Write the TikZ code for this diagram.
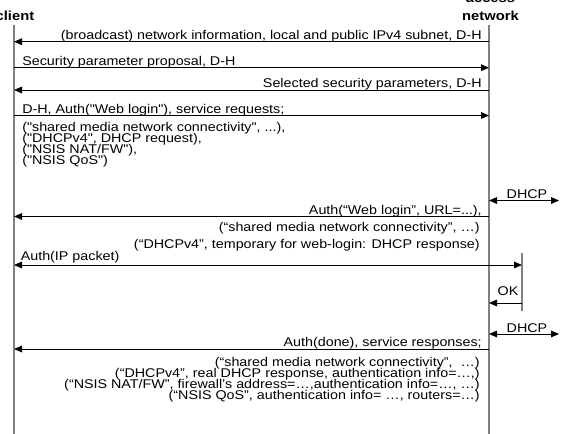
\documentclass[tikz,border=0pt]{standalone}
\usepackage{fontspec}
\setmainfont{Liberation Sans}[Ligatures=TeXOff,FakeStretch=1.13]
\usetikzlibrary{positioning,arrows.meta}
\definecolor{lifec}{HTML}{808080}
\tikzset{
  life/.style={lifec,line width=1.1pt},
  tip/.tip={Triangle[length=6pt,width=5pt]},
  msg/.style={black,line width=0.75pt,-tip},
  msgboth/.style={black,line width=0.75pt,tip-tip},
  lbl/.style={inner sep=0pt,font=\fontsize{9.5pt}{8.25pt}\selectfont},
  head/.style={inner sep=0pt,font=\fontsize{9.8pt}{12pt}\selectfont\bfseries},
}
\newcommand{\lifeline}[4]{%
  \coordinate (#1-top) at (#2,#3);
  \coordinate (#1-bot) at (#2,#4);
  \draw[life] (#1-top) -- (#1-bot);
}
\newcommand{\msgrow}[5]{%
  \coordinate (#1) at (0,#2);
  \draw[#5] (#3 |- #1) -- (#4 |- #1);
}
\begin{document}
\begin{tikzpicture}[x=0.75pt,y=-0.75pt]
  \useasboundingbox (0,0) rectangle (561,433);
  \node[head,anchor=base east] (cli-head) at (34.5,20) {client};
  \node[head,anchor=base] (net-head) at (490.5,20) {network};
  \node[head,anchor=base] (net-head2) at (490.5,2) {access};
  \lifeline{cli}{14}{25}{440}
  \lifeline{net}{489}{25}{440}
  \lifeline{auth}{522}{253}{311}
  \coordinate (edge) at (559,0);

  \msgrow{m1}{41.7}{net-top}{cli-top}{msg}
  \node[lbl,anchor=base east] (t1) at (482,39.2) {(broadcast) network information, local and public IPv4 subnet, D-H};
  \msgrow{m2}{67.7}{cli-top}{net-top}{msg}
  \node[lbl,anchor=base west] (t2) at (22,65.2) {Security parameter proposal, D-H};
  \msgrow{m3}{90}{net-top}{cli-top}{msg}
  \node[lbl,anchor=base east] (t3) at (482,87.5) {Selected security parameters, D-H};
  \msgrow{m4}{115.5}{cli-top}{net-top}{msg}
  \node[lbl,anchor=base west] (t4) at (22,113) {D-H, Auth("Web login"), service requests;};
  \node[lbl,anchor=base west] (t4a) at (22,131) {("shared media network connectivity", ...),};
  \node[lbl,anchor=base west] (t4b) at (22,142) {("DHCPv4", DHCP request),};
  \node[lbl,anchor=base west] (t4c) at (22,153) {("NSIS NAT/FW"),};
  \node[lbl,anchor=base west] (t4d) at (22,164) {("NSIS QoS")};

  \msgrow{d1}{200.5}{net-top}{edge}{msgboth}
  \node[lbl,anchor=base] (dhcp1) at (527,198) {DHCP};

  \msgrow{m5}{216.5}{net-top}{cli-top}{msg}
  \node[lbl,anchor=base east] (t5) at (482,214) {Auth(“Web login”, URL=...),};
  \node[lbl,anchor=base east] (t5a) at (480,231.5) {(“shared media network connectivity”, …)};
  \node[lbl,anchor=base east] (t5b) at (480,248) {(“DHCPv4”, temporary for web-login: DHCP response)};

  \msgrow{m6}{265}{cli-top}{auth-top}{msgboth}
  \node[lbl,anchor=base west] (t6) at (20.5,260.5) {Auth(IP packet)};
  \msgrow{m7}{303}{auth-top}{net-top}{msg}
  \node[lbl,anchor=base] (ok) at (508,295) {OK};

  \msgrow{d2}{334}{net-top}{edge}{msgboth}
  \node[lbl,anchor=base] (dhcp2) at (527,332) {DHCP};

  \msgrow{m8}{349}{net-top}{cli-top}{msg}
  \node[lbl,anchor=base east] (t8) at (482,346.5) {Auth(done), service responses;};
  \node[lbl,anchor=base east] (t8a) at (480,366) {(“shared media network connectivity”,\ \ …)};
  \node[lbl,anchor=base east] (t8b) at (480,377) {(“DHCPv4”, real DHCP response, authentication info=…,)};
  \node[lbl,anchor=base east] (t8c) at (480,388) {(“NSIS NAT/FW”, firewall’s address=…,authentication info=…, …)};
  \node[lbl,anchor=base east] (t8d) at (480,399) {(“NSIS QoS”, authentication info= …, routers=…)};
\end{tikzpicture}
\end{document}
